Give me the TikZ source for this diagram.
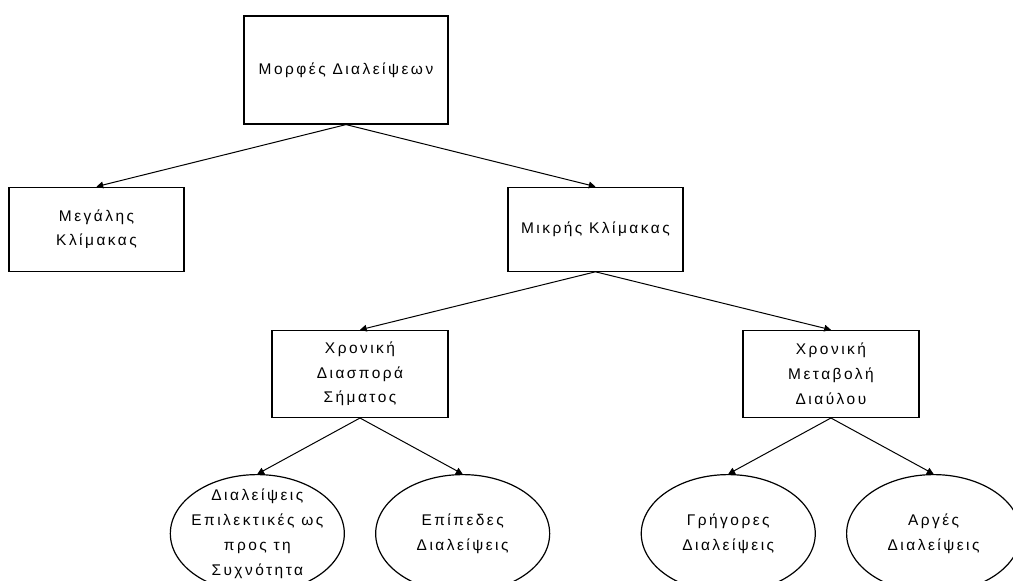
\documentclass[tikz,border=0pt]{standalone}
\usepackage{fontspec}
\setmainfont{Liberation Sans}[LetterSpace=16]
\usetikzlibrary{shapes.geometric, arrows.meta, positioning, calc}

\begin{document}
\begin{tikzpicture}[
    node distance=46.5pt and 0pt,
    every node/.style={font=\fontsize{11.6}{18.6}\selectfont},
    block/.style={rectangle, draw=black, line width=0.9pt, align=center,
                  minimum width=131.25pt, minimum height=63pt},
    leaf/.style={ellipse, draw=black, line width=0.9pt, align=center,
                 minimum width=130.5pt, minimum height=88.5pt,
                 inner xsep=-18pt, inner ysep=-6pt},
    arrow/.style={-{Triangle[length=5pt, width=5pt]}, line width=0.75pt}
]

\useasboundingbox (-259.5pt,52.5pt) rectangle ++(759.75pt,-435.75pt);

% Root
\node[block, minimum width=153pt, minimum height=81pt] (forms) at (0,0)
    {Μορφές Διαλείψεων};

% Large and small scale
\node[block, below=46.5pt of forms, xshift=-187.1pt] (large)
    {Μεγάλης\\Κλίμακας};
\node[block, below=46.5pt of forms, xshift=187.1pt] (small)
    {Μικρής Κλίμακας};

\draw[arrow] (forms.south) -- (large.north);
\draw[arrow] (forms.south) -- (small.north);

% Small scale branches
\node[block, below=43.5pt of small, xshift=-176.6pt, minimum width=132pt,
      minimum height=65.25pt] (spread)
    {Χρονική\\Διασπορά\\Σήματος};
\node[block, below=43.5pt of small, xshift=176.6pt, minimum width=132pt,
      minimum height=65.25pt] (change)
    {Χρονική\\Μεταβολή\\Διαύλου};

\draw[arrow] (small.south) -- (spread.north);
\draw[arrow] (small.south) -- (change.north);

% Leaves
\node[leaf, below=42pt of spread, xshift=-77pt] (selective)
    {Διαλείψεις\\Επιλεκτικές ως\\προς τη\\Συχνότητα};
\node[leaf, below=42pt of spread, xshift=77pt] (flat)
    {Επίπεδες\\Διαλείψεις};
\node[leaf, below=42pt of change, xshift=-77pt] (fast)
    {Γρήγορες\\Διαλείψεις};
\node[leaf, below=42pt of change, xshift=77pt] (slow)
    {Αργές\\Διαλείψεις};

\draw[arrow] (spread.south) -- (selective.north);
\draw[arrow] (spread.south) -- (flat.north);
\draw[arrow] (change.south) -- (fast.north);
\draw[arrow] (change.south) -- (slow.north);

\end{tikzpicture}
\end{document}
